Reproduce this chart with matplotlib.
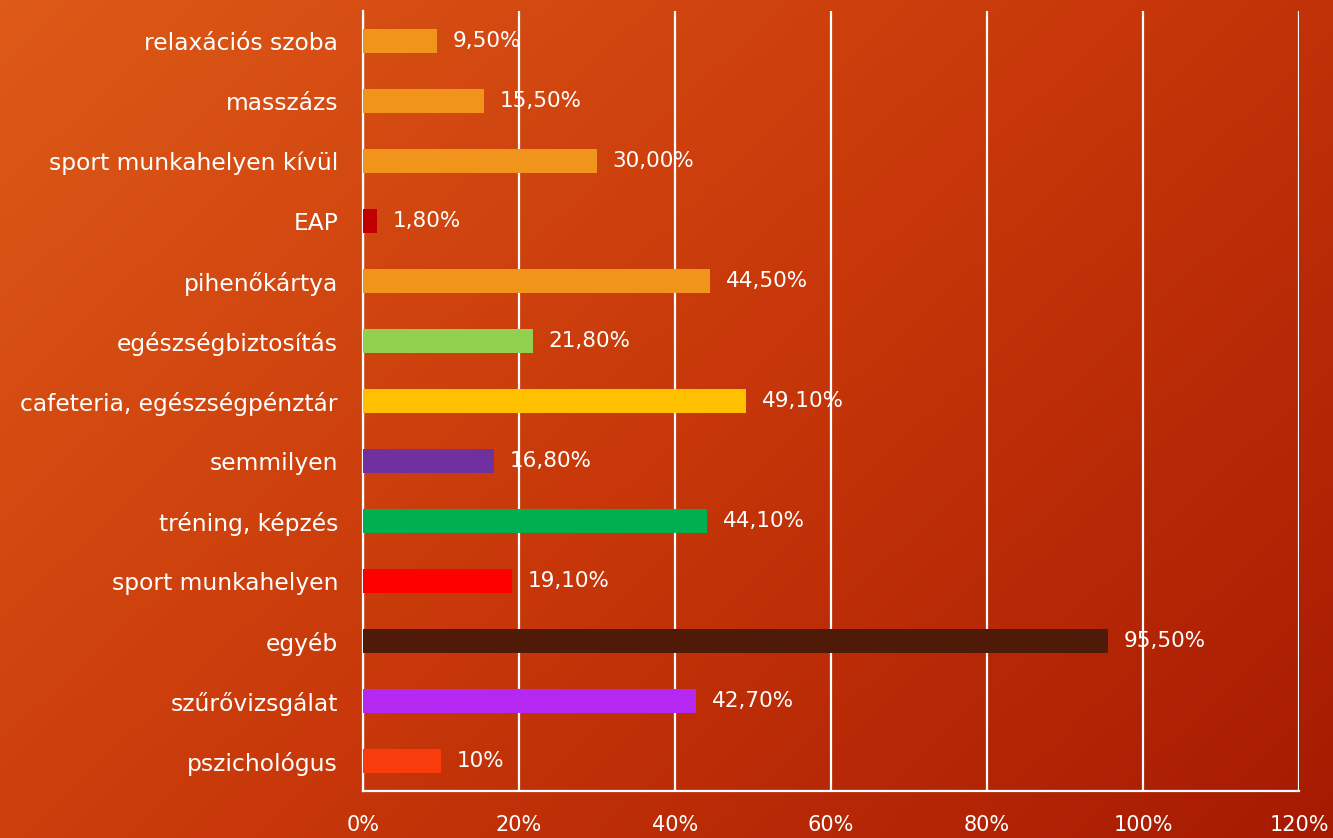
import matplotlib.pyplot as plt
import numpy as np
from matplotlib.colors import LinearSegmentedColormap

# categories listed bottom to top
categories = ["pszichológus", "szűrővizsgálat", "egyéb", "sport munkahelyen",
              "tréning, képzés", "semmilyen", "cafeteria, egészségpénztár",
              "egészségbiztosítás", "pihenőkártya", "EAP",
              "sport munkahelyen kívül", "masszázs", "relaxációs szoba"]
values = [10.0, 42.7, 95.5, 19.1, 44.1, 16.8, 49.1, 21.8, 44.5, 1.8, 30.0, 15.5, 9.5]
value_labels = ["10%", "42,70%", "95,50%", "19,10%", "44,10%", "16,80%", "49,10%",
                "21,80%", "44,50%", "1,80%", "30,00%", "15,50%", "9,50%"]
bar_colors = ["#F83C0C", "#B428F2", "#4F1A08", "#FF0000", "#00B050", "#7030A0",
              "#FFC000", "#92D050", "#F0941C", "#C00000", "#F0941C", "#F0941C", "#F0941C"]
x_ticks = [0, 20, 40, 60, 80, 100, 120]

plt.rcParams["font.family"] = ["DejaVu Sans"]

fig = plt.figure(figsize=(13.33, 8.38), dpi=100)

# background gradient (top-left orange -> bottom-right dark red)
bg = fig.add_axes([0, 0, 1, 1], zorder=0)
gx, gy = np.meshgrid(np.linspace(0, 1, 400), np.linspace(0, 1, 250))
grad = (gx * 0.6 + gy * 0.4)
cmap = LinearSegmentedColormap.from_list("bg", ["#DE5A18", "#C8380A", "#A61A02"])
bg.imshow(grad, cmap=cmap, aspect="auto", extent=[0, 1, 0, 1], origin="upper")
bg.axis("off")

ax = fig.add_axes([363 / 1333, 1 - 791 / 838, (1299 - 363) / 1333, (791 - 11) / 838], zorder=1)
ax.patch.set_alpha(0)

y = np.arange(len(categories))
ax.barh(y, values, height=0.4, color=bar_colors, zorder=3)
for yi, v, lab in zip(y, values, value_labels):
    ax.text(v + 2.0, yi, lab, va="center", ha="left", color="white", fontsize=15.5, zorder=4)

ax.set_xlim(0, 120)
ax.set_ylim(-0.5, len(categories) - 0.5)
ax.set_xticks(x_ticks)
ax.set_xticklabels([f"{t}%" for t in x_ticks], color="white", fontsize=15)
ax.set_yticks(y)
ax.set_yticklabels(categories, color="white", fontsize=16.8)
ax.tick_params(axis="y", length=0, pad=18)
ax.tick_params(axis="x", length=0, pad=17)

ax.grid(axis="x", color="white", linewidth=1.6, zorder=1)
for s in ["top", "right"]:
    ax.spines[s].set_visible(False)
for s in ["left", "bottom"]:
    ax.spines[s].set_color("white")
    ax.spines[s].set_linewidth(1.6)

fig.savefig("out.png", dpi=100)
